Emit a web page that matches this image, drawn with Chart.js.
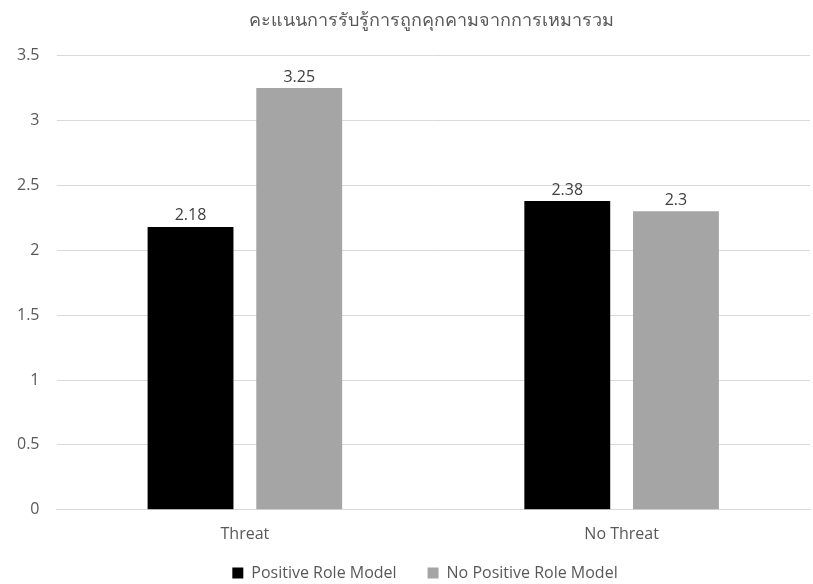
<!DOCTYPE html>
<html>
<head>
<meta charset="utf-8">
<script src="https://cdn.jsdelivr.net/npm/chart.js"></script>
<style>
  body{margin:0;background:#fff;}
  #wrap{width:813px;height:584px;}
</style>
</head>
<body>
<div id="wrap"><canvas id="myChart" width="813" height="584"></canvas></div>
<script>
const chartTitle = 'คะแนนการรับรู้การถูกคุกคามจากการเหมารวม';
const categories = ['Threat', 'No Threat'];
const seriesNames = ['Positive Role Model', 'No Positive Role Model'];
const positiveValues = [2.18, 2.38];
const noPositiveValues = [3.25, 2.3];

const textColor = '#595959';
const fontFamily = '"Open Sans", "Noto Sans", "DejaVu Sans", sans-serif';

// value labels above each bar
const barLabels = {
  id: 'barLabels',
  afterDatasetsDraw(chart) {
    const c = chart.ctx;
    c.save();
    c.font = '16px ' + fontFamily;
    c.fillStyle = '#404040';
    c.textAlign = 'center';
    c.textBaseline = 'bottom';
    chart.data.datasets.forEach((ds, i) => {
      chart.getDatasetMeta(i).data.forEach((bar, j) => {
        c.fillText(String(ds.data[j]), bar.x, bar.y - 3);
      });
    });
    c.restore();
  }
};

// nudge legend and title a bit to the right, like the original
const blockShift = {
  id: 'blockShift',
  afterLayout(chart) {
    chart.legend.left += 20;
    chart.legend.right += 20;
    chart.titleBlock.left += 26;
    chart.titleBlock.right += 26;
  }
};

const ctx = document.getElementById('myChart');
new Chart(ctx, {
  type: 'bar',
  data: {
    labels: categories,
    datasets: [{
      label: seriesNames[0],
      data: positiveValues,
      backgroundColor: '#000000',
      categoryPercentage: 0.577,
      barPercentage: 0.79
    }, {
      label: seriesNames[1],
      data: noPositiveValues,
      backgroundColor: '#a5a5a5',
      categoryPercentage: 0.577,
      barPercentage: 0.79
    }]
  },
  options: {
    responsive: false,
    animation: false,
    layout: { padding: { left: 0, right: 3, top: 0, bottom: -7 } },
    plugins: {
      title: {
        display: true,
        text: chartTitle,
        color: textColor,
        font: { size: 18, family: fontFamily, weight: 'normal' },
        padding: { top: 10, bottom: 24 }
      },
      legend: {
        position: 'bottom',
        labels: {
          color: textColor,
          font: { size: 16, family: fontFamily },
          boxWidth: 11,
          boxHeight: 11,
          padding: 6,
          // small vertical padding, so widen the gap between items with spaces
          generateLabels(chart) {
            const items = Chart.defaults.plugins.legend.labels.generateLabels(chart);
            items.forEach((it, i) => { if (i < items.length - 1) it.text += '      '; });
            return items;
          }
        }
      },
      tooltip: { enabled: false }
    },
    scales: {
      x: {
        grid: { display: false, drawTicks: false },
        border: { color: '#d9d9d9' },
        ticks: { color: textColor, font: { size: 16, family: fontFamily }, padding: 15 }
      },
      y: {
        min: 0,
        max: 3.5,
        ticks: {
          stepSize: 0.5,
          color: textColor,
          font: { size: 16, family: fontFamily },
          padding: 17,
          callback: v => String(v)
        },
        grid: { color: '#d9d9d9', drawTicks: false },
        border: { display: false }
      }
    }
  },
  plugins: [barLabels, blockShift]
});
</script>
</body>
</html>
